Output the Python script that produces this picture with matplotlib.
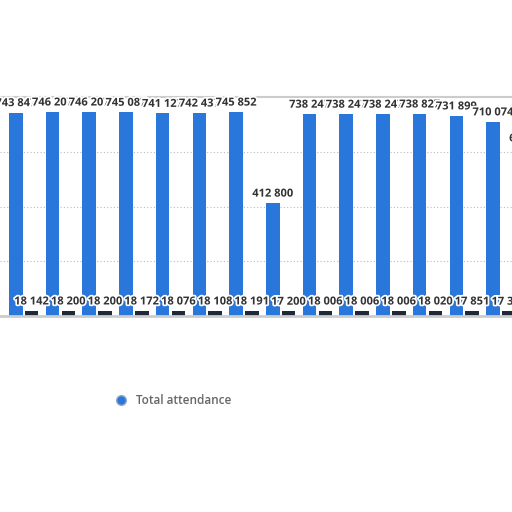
import matplotlib.pyplot as plt
import matplotlib.patheffects as pe
import numpy as np
from matplotlib.lines import Line2D

plt.rcParams["font.family"] = ["Open Sans", "DejaVu Sans"]

# values (last group is cut off at the right edge)
total_attendance = [743847, 746207, 746207, 745087, 741127, 742437, 745852,
                    412800, 738247, 738247, 738247, 738827, 731899, 710074,
                    615000]
second_series = [18142, 18200, 18200, 18172, 18076, 18108, 18191,
                 17200, 18006, 18006, 18006, 18020, 17851, 17300, 17300]

BLUE = "#2a77dc"
DARK = "#1f2836"


def fmt(v):
    return f"{v:,}".replace(",", " ")


fig = plt.figure(figsize=(5.12, 5.12), dpi=100)
ax = fig.add_axes([0.0, 0.383, 1.0, 0.427])

x = np.arange(len(total_attendance))
w = 0.37
off = 0.215
b1 = ax.bar(x - off, total_attendance, w, color=BLUE, zorder=2)
b2 = ax.bar(x + off, second_series, w, color=DARK, zorder=2)

halo = [pe.withStroke(linewidth=2.5, foreground="white")]
for bars, vals in [(b1, total_attendance), (b2, second_series)]:
    for rect, v in zip(bars, vals):
        ax.annotate(fmt(v), (rect.get_x() + rect.get_width() / 2, v),
                    xytext=(0, 2.5), textcoords="offset points", ha="center",
                    va="bottom", fontsize=8, fontweight="bold",
                    color="#333333", path_effects=halo, zorder=5,
                    annotation_clip=False)

ax.set_xlim(-0.647, 13.3)
ax.set_ylim(0, 800000)
ax.set_yticks([200000, 400000, 600000])
ax.yaxis.grid(True, linestyle=(0, (1, 2)), color="#bbbbbb", linewidth=0.8)
ax.set_axisbelow(True)
ax.tick_params(left=False, bottom=False, labelleft=False, labelbottom=False)
for s in ["left", "right"]:
    ax.spines[s].set_visible(False)
ax.spines["top"].set_color("#cccccc")
ax.spines["top"].set_linewidth(1.5)
ax.spines["bottom"].set_color("#cccccc")
ax.spines["bottom"].set_linewidth(2)

handle = Line2D([], [], marker="o", linestyle="none", markersize=7,
                markerfacecolor=BLUE, markeredgecolor="#9aa9c0")
fig.legend([handle], ["Total attendance"], loc="center left",
           bbox_to_anchor=(0.192, 0.217), frameon=False, fontsize=8.5,
           labelcolor="#666666", handletextpad=0.3,
           prop={"weight": "semibold", "size": 8.5})

fig.savefig("out.png", dpi=100)
